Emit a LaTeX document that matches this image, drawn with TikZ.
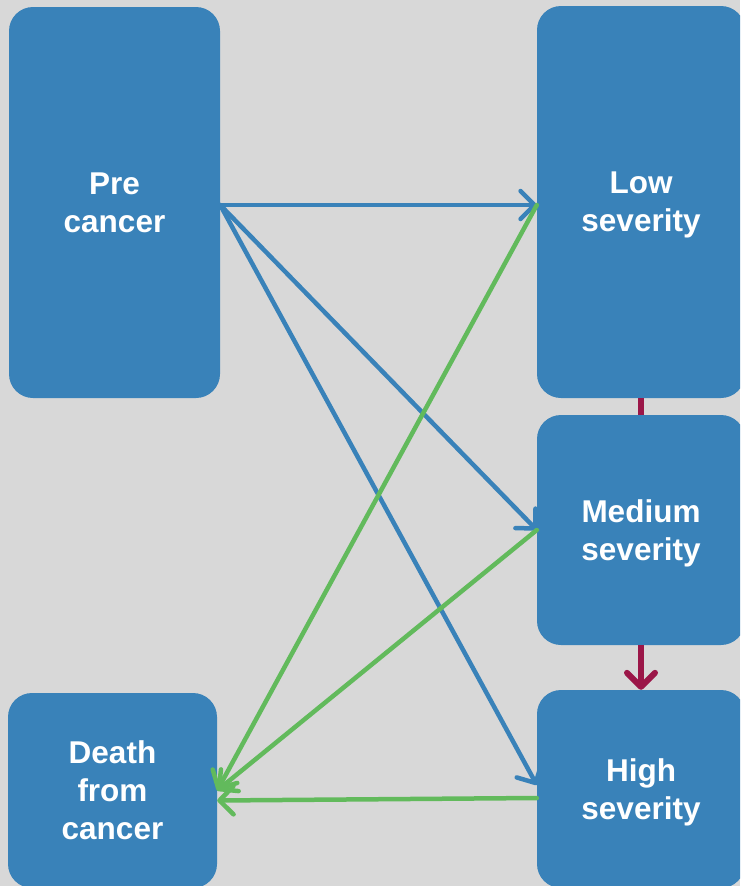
\documentclass[tikz,border=0pt]{standalone}
\usepackage{fontspec}
\setmainfont{Liberation Sans}
\usetikzlibrary{arrows.meta}
\definecolor{boxblue}{RGB}{57,130,185}
\definecolor{flowgreen}{RGB}{98,186,92}
\definecolor{stepred}{RGB}{155,22,72}
\definecolor{bggrey}{RGB}{216,216,216}
\begin{document}
\begin{tikzpicture}[x=1pt,y=-1pt,
    state/.style={rectangle,rounded corners=24pt,fill=boxblue,text=white,align=center,inner sep=0pt,
        text depth=-4pt,font=\fontsize{31.5}{38}\selectfont\bfseries},
    flow/.style={line width=4.5pt,line cap=round,line join=round,
        -{Straight Barb[length=14pt,width=28pt,line width=4.5pt,round]}}]
    \useasboundingbox (0,0) rectangle (740,886);
    \clip (0,0) rectangle (740,886);
    \fill[bggrey] (0,0) rectangle (740,886);
    % states
    \node[state,minimum width=211pt,minimum height=391pt] (pre) at (114.5,202.5) {Pre\\cancer};
    \node[state,minimum width=208pt,minimum height=392pt] (low) at (641,202) {Low\\severity};
    \node[state,minimum width=208pt,minimum height=230pt] (med) at (641,530) {Medium\\severity};
    \node[state,minimum width=208pt,minimum height=198pt] (high) at (641,789) {High\\severity};
    \node[state,minimum width=209pt,minimum height=195pt] (death) at (112.5,790.5) {Death\\from\\cancer};
    % progression
    \draw[stepred,line width=6pt] (low.south) -- (med.north);
    \draw[stepred,line width=6pt,-{Straight Barb[length=14pt,width=28pt,line width=6pt,round]}] (med.south) -- (high.north);
    % from pre cancer
    \foreach \t/\s in {low/-3pt,med/0pt,high/4pt}
        \draw[flow,boxblue] ([yshift=-2.5pt]pre.east) -- ([yshift=\s]\t.west);
    % to death
    \foreach \f/\s in {low/-3pt,med/0pt}
        \draw[flow,flowgreen] ([yshift=\s]\f.west) -- (death.east);
    \draw[flow,flowgreen] ([yshift=-9pt]high.west) -- ([yshift=-10pt]death.east);
\end{tikzpicture}
\end{document}
